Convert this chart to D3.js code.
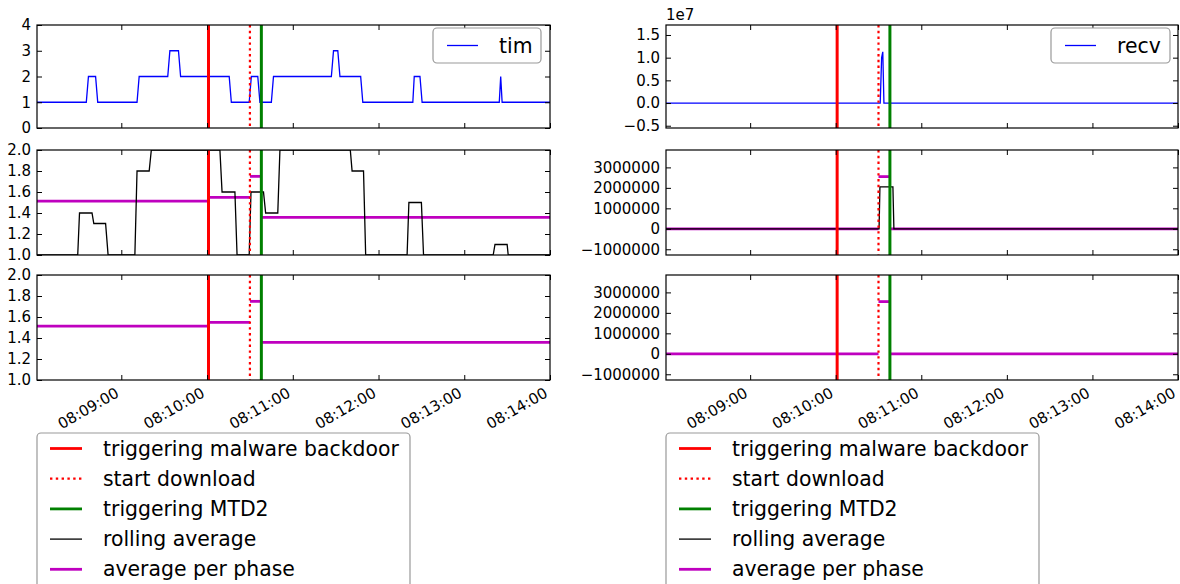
<!DOCTYPE html>
<html>
<head>
<meta charset="utf-8">
<script src="https://cdn.jsdelivr.net/npm/d3@7"></script>
<style>
  body { margin: 0; background: #fff; }
  svg text { font-family: "DejaVu Sans", sans-serif; fill: #000; }
</style>
</head>
<body>
<svg id="chart" width="1180" height="584"></svg>
<script>
// ---- data (times are seconds after 08:08:00) ----
const xStart = 1, xEnd = 360;
const timeTickLabels = ["08:09:00", "08:10:00", "08:11:00", "08:12:00", "08:13:00", "08:14:00"];

// event markers
const backdoorTime = 121;   // triggering malware backdoor
const downloadTime = 150;   // start download
const mtdTime = 158;        // triggering MTD2

// phase boundaries (start, backdoor, download, MTD2, end)
const phaseBounds = [1, 121, 150, 158, 360];

// tim: raw series
const timTime  = [1, 35.5, 37, 42, 43.5, 71, 72.5, 92.5, 94, 100, 101.5, 135.5, 137, 149.5, 151, 155.5, 157,
                  165, 166.5, 207, 208.5, 211.5, 213, 227.5, 229, 264, 265, 269, 270.5, 324.5, 325.5, 326.5, 360];
const timValue = [1, 1, 2, 2, 1, 1, 2, 2, 3, 3, 2, 2, 1, 1, 2, 2, 1,
                  1, 2, 2, 3, 3, 2, 2, 1, 1, 2, 2, 1, 1, 2, 1, 1];

// tim: rolling average
const timRollTime  = [1, 29.5, 30.75, 39.5, 40.75, 49, 50.75, 69.5, 71, 79.5, 81, 129, 130.5, 139.5, 141, 149.5,
                      150.75, 159.5, 161, 169.5, 171, 220.25, 221.5, 229.5, 231, 260, 261.25, 270, 271.5,
                      320.25, 321.5, 330, 330.75, 360];
const timRollValue = [1, 1, 1.4, 1.4, 1.3, 1.3, 1, 1, 1.8, 1.8, 2, 2, 1.6, 1.6, 1, 1,
                      1.6, 1.6, 1.4, 1.4, 2, 2, 1.8, 1.8, 1, 1, 1.5, 1.5, 1,
                      1, 1.1, 1.1, 1, 1];

// tim: average per phase
const timPhaseAvg = [1.514, 1.549, 1.749, 1.359];

// recv: raw series
const recvTime  = [1, 151.2, 152.2, 153, 153.8, 360];
const recvValue = [0, 0, 1.0e7, 1.13e7, 0, 0];

// recv: rolling average
const recvRollTime  = [1, 150.4, 151, 160.1, 160.8, 360];
const recvRollValue = [0, 0, 2.05e6, 2.05e6, 0, 0];

// recv: average per phase
const recvPhaseAvg = [0, 0, 2.55e6, 0];

// axis ranges and ticks
const timRawDomain = [0, 4];
const timRawTicks = [0, 1, 2, 3, 4];
const timAvgDomain = [1, 2];
const timAvgTicks = [1.0, 1.2, 1.4, 1.6, 1.8, 2.0];
const recvRawDomain = [-0.55e7, 1.72e7];
const recvRawTicks = [-0.5e7, 0, 0.5e7, 1.0e7, 1.5e7];
const recvAvgDomain = [-1.28e6, 3.85e6];
const recvAvgTicks = [-1e6, 0, 1e6, 2e6, 3e6];

const legendLabels = ["triggering malware backdoor", "start download", "triggering MTD2", "rolling average", "average per phase"];

// ---- layout ----
const C = { blue: "#0000ff", red: "#ff0000", green: "#008000", magenta: "#bf00bf", black: "#000000" };
const cols = [{ x0: 37, x1: 550 }, { x0: 666, x1: 1178 }];
const rows = [{ y0: 25, y1: 128 }, { y0: 150, y1: 255 }, { y0: 275, y1: 380 }];
const tickFont = 15, legendFont = 20.4;

const svg = d3.select("#chart");
const baseMs = Date.UTC(2000, 0, 1, 8, 8, 0);
const at = s => new Date(baseMs + s * 1000);
const parseClock = d3.utcParse("%H:%M:%S");
const tickDates = timeTickLabels.map(l => {
  const d = parseClock(l);
  return new Date(Date.UTC(2000, 0, 1, d.getUTCHours(), d.getUTCMinutes(), d.getUTCSeconds()));
});
const fmtClock = d3.utcFormat("%H:%M:%S");

let clipId = 0;
function makePanel(col, row, yDomain) {
  const x = d3.scaleUtc().domain([at(xStart), at(xEnd)]).range([col.x0, col.x1]);
  const y = d3.scaleLinear().domain(yDomain).range([row.y1, row.y0]);
  const g = svg.append("g");
  const id = "clip" + (clipId++);
  svg.append("clipPath").attr("id", id).append("rect")
    .attr("x", col.x0).attr("y", row.y0).attr("width", col.x1 - col.x0).attr("height", row.y1 - row.y0);
  const plot = g.append("g").attr("clip-path", `url(#${id})`);
  return { x, y, g, plot, col, row };
}

function drawSeries(p, times, values, color, width) {
  const line = d3.line().x((d, i) => p.x(at(times[i]))).y(d => p.y(d));
  p.plot.append("path").datum(values)
    .attr("d", line).attr("fill", "none")
    .attr("stroke", color).attr("stroke-width", width).attr("stroke-linejoin", "miter");
}

function drawPhases(p, avgs) {
  avgs.forEach((v, i) => {
    p.plot.append("line")
      .attr("x1", p.x(at(phaseBounds[i]))).attr("x2", p.x(at(phaseBounds[i + 1])))
      .attr("y1", p.y(v)).attr("y2", p.y(v))
      .attr("stroke", C.magenta).attr("stroke-width", 2.8);
  });
}

function drawEvents(p) {
  const ev = [
    { t: backdoorTime, c: C.red, dash: null, w: 3 },
    { t: downloadTime, c: C.red, dash: "2.4,3.4", w: 2.2 },
    { t: mtdTime, c: C.green, dash: null, w: 3 }
  ];
  ev.forEach(e => {
    const ln = p.plot.append("line")
      .attr("x1", p.x(at(e.t))).attr("x2", p.x(at(e.t)))
      .attr("y1", p.row.y0).attr("y2", p.row.y1)
      .attr("stroke", e.c).attr("stroke-width", e.w);
    if (e.dash) ln.attr("stroke-dasharray", e.dash);
  });
}

function drawAxes(p, yTicks, yFmt, showX) {
  const { g, x, y, col, row } = p;
  const strip = sel => { sel.select(".domain").remove(); sel.selectAll("line").attr("stroke", "#000"); };

  // left ticks with labels
  g.append("g").attr("transform", `translate(${col.x0},0)`)
    .call(d3.axisLeft(y).tickValues(yTicks).tickFormat(yFmt).tickSize(-5).tickPadding(6))
    .call(strip)
    .call(s => s.selectAll("text").attr("font-size", tickFont).attr("font-family", "DejaVu Sans"));
  // right ticks
  g.append("g").attr("transform", `translate(${col.x1},0)`)
    .call(d3.axisRight(y).tickValues(yTicks).tickFormat("").tickSize(-5)).call(strip);
  // top ticks
  g.append("g").attr("transform", `translate(0,${row.y0})`)
    .call(d3.axisTop(x).tickValues(tickDates).tickFormat("").tickSize(-5)).call(strip);
  // bottom ticks
  const bx = g.append("g").attr("transform", `translate(0,${row.y1})`)
    .call(d3.axisBottom(x).tickValues(tickDates).tickFormat(showX ? fmtClock : "").tickSize(-5))
    .call(strip);
  if (showX) {
    bx.selectAll("text")
      .attr("font-size", tickFont).attr("font-family", "DejaVu Sans")
      .attr("text-anchor", "end")
      .attr("x", 0).attr("y", 0).attr("dy", "-0.24em")
      .attr("transform", `translate(0,${4 + tickFont * 1.0}) rotate(-30)`);
  }
  // frame
  g.append("rect").attr("x", col.x0).attr("y", row.y0)
    .attr("width", col.x1 - col.x0).attr("height", row.y1 - row.y0)
    .attr("fill", "none").attr("stroke", "#000").attr("stroke-width", 1.2);
}

function seriesLegend(x0, x1, label) {
  const y0 = 28, y1 = 63, cy = (y0 + y1) / 2;
  const g = svg.append("g");
  g.append("rect").attr("x", x0).attr("y", y0).attr("width", x1 - x0).attr("height", y1 - y0)
    .attr("rx", 4).attr("fill", "#fff").attr("stroke", "#999").attr("stroke-width", 1.2);
  g.append("line").attr("x1", x0 + 14).attr("x2", x0 + 45).attr("y1", cy).attr("y2", cy)
    .attr("stroke", C.blue).attr("stroke-width", 1.3);
  g.append("text").attr("x", x0 + 66).attr("y", cy).attr("dy", "0.35em")
    .attr("font-size", legendFont).text(label);
}

function phaseLegend(x0, x1) {
  const top = 433;
  const g = svg.append("g");
  g.append("rect").attr("x", x0).attr("y", top).attr("width", x1 - x0).attr("height", 170)
    .attr("rx", 4).attr("fill", "#fff").attr("stroke", "#999").attr("stroke-width", 1.2);
  const styles = [
    { c: C.red, w: 2.8, dash: null },
    { c: C.red, w: 2.2, dash: "2.4,3.4" },
    { c: C.green, w: 2.8, dash: null },
    { c: C.black, w: 1.3, dash: null },
    { c: C.magenta, w: 2.8, dash: null }
  ];
  legendLabels.forEach((lab, i) => {
    const cy = 448.5 + i * 30.2;
    const ln = g.append("line").attr("x1", x0 + 13).attr("x2", x0 + 45).attr("y1", cy).attr("y2", cy)
      .attr("stroke", styles[i].c).attr("stroke-width", styles[i].w);
    if (styles[i].dash) ln.attr("stroke-dasharray", styles[i].dash);
    g.append("text").attr("x", x0 + 66).attr("y", cy).attr("dy", "0.35em")
      .attr("font-size", legendFont).text(lab);
  });
}

const fmt1 = d3.format(".1f");
const fmtInt = d3.format("d");
const fmtE7 = v => d3.format(".1f")(v / 1e7);
const fmtTop = d3.format("d");

// ---- left column: tim ----
const L0 = makePanel(cols[0], rows[0], timRawDomain);
drawSeries(L0, timTime, timValue, C.blue, 1.3);
drawEvents(L0);
drawAxes(L0, timRawTicks, fmtTop, false);
seriesLegend(433, 541, "tim");

const L1 = makePanel(cols[0], rows[1], timAvgDomain);
drawPhases(L1, timPhaseAvg);
drawSeries(L1, timRollTime, timRollValue, C.black, 1.3);
drawEvents(L1);
drawAxes(L1, timAvgTicks, fmt1, false);

const L2 = makePanel(cols[0], rows[2], timAvgDomain);
drawPhases(L2, timPhaseAvg);
drawEvents(L2);
drawAxes(L2, timAvgTicks, fmt1, true);

// ---- right column: recv ----
const R0 = makePanel(cols[1], rows[0], recvRawDomain);
drawSeries(R0, recvTime, recvValue, C.blue, 1.3);
drawEvents(R0);
drawAxes(R0, recvRawTicks, fmtE7, false);
svg.append("text").attr("x", cols[1].x0).attr("y", 20).attr("font-size", tickFont).text("1e7");
seriesLegend(1051, 1170, "recv");

const R1 = makePanel(cols[1], rows[1], recvAvgDomain);
drawPhases(R1, recvPhaseAvg);
drawSeries(R1, recvRollTime, recvRollValue, C.black, 1.3);
drawEvents(R1);
drawAxes(R1, recvAvgTicks, fmtInt, false);

const R2 = makePanel(cols[1], rows[2], recvAvgDomain);
drawPhases(R2, recvPhaseAvg);
drawEvents(R2);
drawAxes(R2, recvAvgTicks, fmtInt, true);

phaseLegend(37, 410);
phaseLegend(666, 1039);
</script>
</body>
</html>
